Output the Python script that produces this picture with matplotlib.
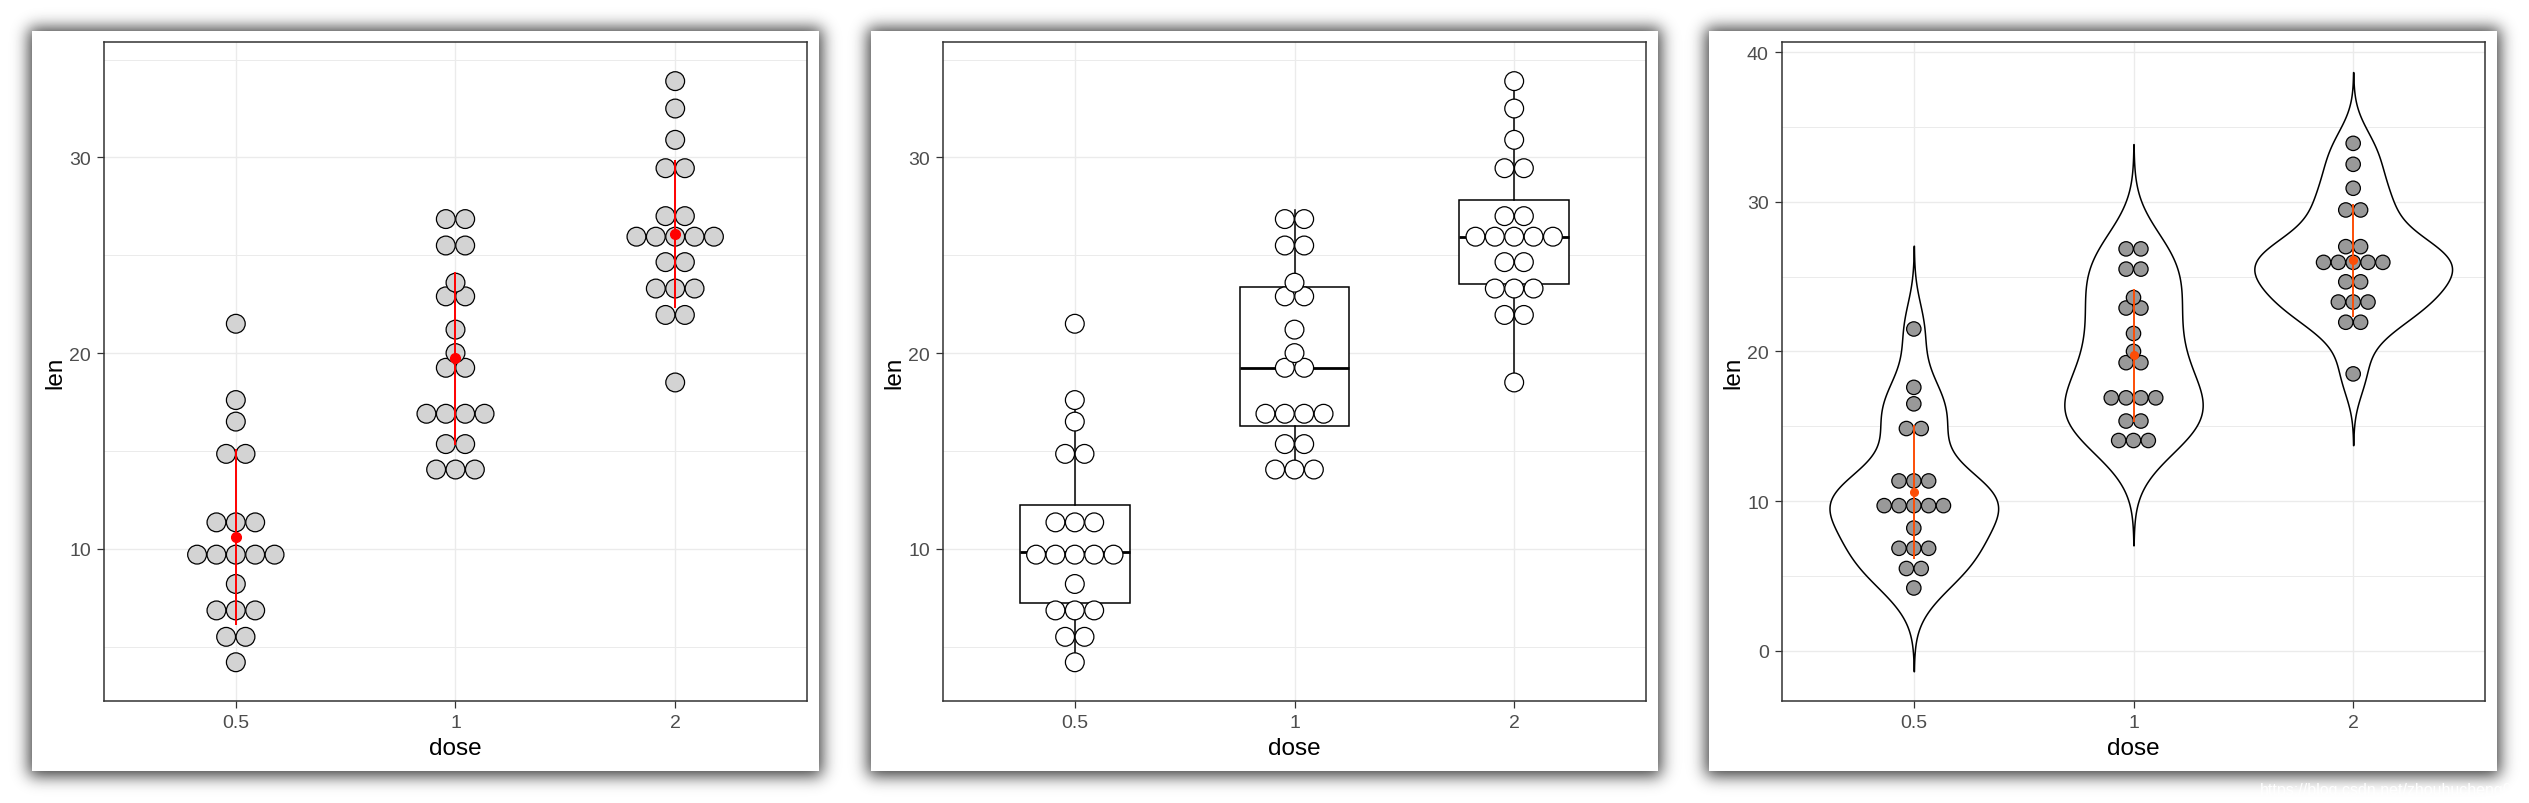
import math
import numpy as np
import matplotlib
matplotlib.use("Agg")
import matplotlib.pyplot as plt
from matplotlib.patches import Ellipse

plt.rcParams['font.family'] = ['Liberation Sans', 'DejaVu Sans']

# ---------------- data (ToothGrowth: len by dose) ----------------
dose_labels = ['0.5', '1', '2']
len_05 = [4.2, 11.5, 7.3, 5.8, 6.4, 10.0, 11.2, 11.2, 5.2, 7.0,
          15.2, 21.5, 17.6, 9.7, 14.5, 10.0, 8.2, 9.4, 16.5, 9.7]
len_1 = [16.5, 16.5, 15.2, 17.3, 22.5, 17.3, 13.6, 14.5, 18.8, 15.5,
         19.7, 23.3, 23.6, 26.4, 20.0, 25.2, 25.8, 21.2, 14.5, 27.3]
len_2 = [23.6, 18.5, 33.9, 25.5, 26.4, 32.5, 26.7, 21.5, 23.3, 29.5,
         25.5, 26.4, 22.4, 24.5, 24.8, 30.9, 26.4, 27.3, 29.4, 23.0]
groups = [len_05, len_1, len_2]

W, H = 2529, 804
fig = plt.figure(figsize=(W / 100, H / 100), dpi=100)

# ---------------- background cards with soft shadow ----------------
cards = [(32, 32, 819, 772), (871, 32, 1658, 772), (1709, 32, 2497, 772)]
erf = np.vectorize(math.erf)
xs = np.arange(W) + 0.5
ys = np.arange(H) + 0.5
sig = 8.0 * math.sqrt(2)
shade = np.zeros((H, W))
for (x0, y0, x1, y1) in cards:
    g = 3
    fx = 0.5 * (erf((xs - (x0 - g)) / sig) - erf((xs - (x1 + g)) / sig))
    fy = 0.5 * (erf((ys - (y0 - g)) / sig) - erf((ys - (y1 + g + 2)) / sig))
    shade += np.outer(fy, fx)
bg = 1 - 0.78 * np.clip(shade, 0, 1)
for (x0, y0, x1, y1) in cards:
    bg[y0:y1, x0:x1] = 1.0
bgax = fig.add_axes([0, 0, 1, 1])
bgax.imshow(bg, cmap='gray', vmin=0, vmax=1, extent=(0, W, H, 0),
            aspect='auto', interpolation='bilinear')
bgax.set_xlim(0, W)
bgax.set_ylim(H, 0)
bgax.axis('off')

fig.text(2260 / W, 1 - 791 / H, 'https://blog.csdn.net/zhouhucheng00',
         color='white', fontsize=11.5, ha='left', va='center', alpha=0.95)

# ---------------- helpers ----------------
all_vals = np.concatenate(groups)
binwidth = (all_vals.max() - all_vals.min()) / 30.0


def dot_bins(vals):
    v = np.sort(np.asarray(vals))
    centers, counts = [], []
    i = 0
    while i < len(v):
        start = v[i]
        j = i
        while j < len(v) and v[j] < start + binwidth - 1e-9:
            j += 1
        centers.append((v[i] + v[j - 1]) / 2.0)
        counts.append(j - i)
        i = j
    return centers, counts


def make_ax(px):
    x0, y0, x1, y1 = px
    return fig.add_axes([x0 / W, 1 - y1 / H, (x1 - x0) / W, (y1 - y0) / H])


def style(ax, px, ylim, major, minor):
    ax.set_xlim(0.4, 3.6)
    ax.set_ylim(*ylim)
    ax.set_xticks([1, 2, 3])
    ax.set_xticklabels(dose_labels)
    ax.set_yticks(major)
    ax.set_yticks(minor, minor=True)
    ax.grid(True, which='major', color='#EBEBEB', lw=1.0)
    ax.grid(True, which='minor', axis='y', color='#EBEBEB', lw=0.7)
    ax.set_axisbelow(True)
    for s in ax.spines.values():
        s.set_color('#333333')
        s.set_linewidth(1.1)
    ax.tick_params(which='major', length=5, width=0.9, color='#333333',
                   labelcolor='#4D4D4D', labelsize=14, pad=4.5)
    ax.tick_params(which='minor', length=0)
    ax.set_xlabel('dose', fontsize=17.5, color='black')
    ax.set_ylabel('len', fontsize=17.5, color='black')
    x0, y0, x1, y1 = px
    ax.xaxis.set_label_coords(0.5, (y1 - 749) / (y1 - y0))
    ax.xaxis.label.set_va('center')
    ax.yaxis.set_label_coords((x0 - 49 - x0) / (x1 - x0), 0.5)
    ax.yaxis.label.set_va('center')


def draw_dots(ax, px, fill):
    x0, y0, x1, y1 = px
    ylo, yhi = ax.get_ylim()
    d_px = binwidth * (y1 - y0) / (yhi - ylo)
    dx = d_px * 3.2 / (x1 - x0)
    for k, vals in enumerate(groups):
        c, n = dot_bins(vals)
        for cy, cn in zip(c, n):
            for i in range(cn):
                cx = k + 1 + (i - (cn - 1) / 2.0) * dx
                ax.add_patch(Ellipse((cx, cy), dx * 0.97, binwidth * 0.97,
                                     facecolor=fill, edgecolor='black',
                                     lw=0.9, zorder=3))


def draw_pointrange(ax, color, ms):
    for k, vals in enumerate(groups):
        m = np.mean(vals)
        s = np.std(vals, ddof=1)
        ax.plot([k + 1, k + 1], [m - s, m + s], color=color, lw=1.4, zorder=4,
                solid_capstyle='butt')
        ax.plot(k + 1, m, 'o', color=color, ms=ms, zorder=5)


# ---------------- panel 1: dotplot + mean_sdl ----------------
px1 = (104, 43, 807, 702)
ax1 = make_ax(px1)
style(ax1, px1, (2.22, 35.9), [10, 20, 30], [5, 15, 25, 35])
draw_dots(ax1, px1, '#D3D3D3')
draw_pointrange(ax1, '#FF0000', 7.0)

# ---------------- panel 2: boxplot + dotplot ----------------
px2 = (943, 43, 1646, 702)
ax2 = make_ax(px2)
style(ax2, px2, (2.22, 35.9), [10, 20, 30], [5, 15, 25, 35])
ax2.boxplot(groups, positions=[1, 2, 3], widths=0.5, whis=1.5,
            showfliers=False, showcaps=False, patch_artist=True,
            boxprops=dict(facecolor='white', edgecolor='black', lw=1.1),
            medianprops=dict(color='black', lw=2.0),
            whiskerprops=dict(color='black', lw=1.1), zorder=2)
ax2.set_xlim(0.4, 3.6)
ax2.set_xticks([1, 2, 3])
ax2.set_xticklabels(dose_labels)
draw_dots(ax2, px2, 'white')

# ---------------- panel 3: violin + dotplot + mean_sdl ----------------
px3 = (1782, 43, 2485, 702)
ax3 = make_ax(px3)
style(ax3, px3, (-3.35, 40.67), [0, 10, 20, 30, 40], [5, 15, 25, 35])


def kde(vals):
    v = np.asarray(vals)
    n = len(v)
    q75, q25 = np.percentile(v, [75, 25])
    bw = 0.9 * min(v.std(ddof=1), (q75 - q25) / 1.34) * n ** -0.2
    grid = np.linspace(v.min() - 3 * bw, v.max() + 3 * bw, 512)
    dens = np.exp(-0.5 * ((grid[:, None] - v[None, :]) / bw) ** 2).sum(1) / (n * bw * np.sqrt(2 * np.pi))
    return grid, dens


dens_list = [kde(g) for g in groups]
max_d = max(d.max() for _, d in dens_list)
for k, (grid, d) in enumerate(dens_list):
    hw = 0.45 * d / max_d
    ax3.fill_betweenx(grid, k + 1 - hw, k + 1 + hw, facecolor='white',
                      edgecolor='black', lw=1.1, zorder=2)
draw_dots(ax3, px3, '#999999')
draw_pointrange(ax3, '#FC4E07', 5.5)

fig.savefig('out.png', dpi=100)
